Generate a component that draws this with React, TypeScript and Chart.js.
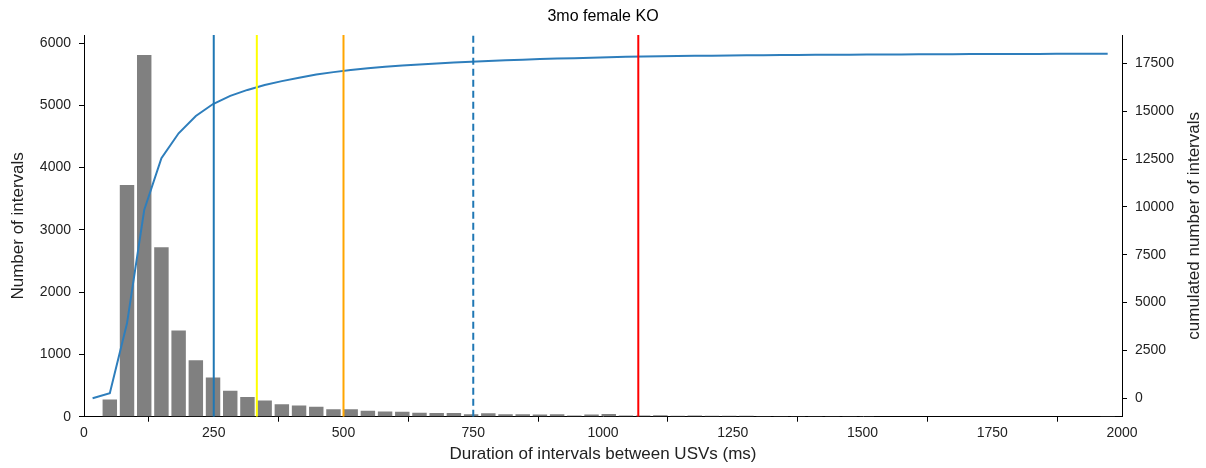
import React, { useEffect, useRef } from "react";
import { Chart, registerables } from "chart.js";

Chart.register(...registerables);

// ---- data ----
const BIN_WIDTH_MS = 33.15;
const intervalCounts = [
  0, 275, 3720, 5810, 2720, 1385, 905, 630, 415, 315,
  262, 200, 180, 158, 120, 118, 97, 82, 78, 62,
  60, 58, 40, 56, 40, 38, 36, 38, 18, 36,
  42, 20, 18, 22, 15, 18, 15, 14, 14, 13,
  12, 12, 11, 10, 10, 11, 9, 9, 9, 8,
  8, 8, 7, 8, 7, 6, 7, 6, 6, 5,
];
const cumulatedCounts = [
  0, 261, 3918, 9837, 12538, 13844, 14748, 15374, 15800, 16110,
  16370, 16570, 16750, 16910, 17040, 17150, 17240, 17320, 17390, 17440,
  17490, 17540, 17580, 17620, 17655, 17690, 17720, 17750, 17770, 17795,
  17820, 17840, 17855, 17870, 17880, 17890, 17900, 17908, 17915, 17922,
  17930, 17936, 17942, 17948, 17953, 17958, 17962, 17966, 17970, 17974,
  17978, 17981, 17984, 17987, 17990, 17992, 17994, 17996, 17998, 18000,
];
const thresholdValues = [250, 333, 500, 750, 1068];
const xTicks = [0, 250, 500, 750, 1000, 1250, 1500, 1750, 2000];
const yLeftTicks = [0, 1000, 2000, 3000, 4000, 5000, 6000];
const yRightTicks = [0, 2500, 5000, 7500, 10000, 12500, 15000, 17500];

const TITLE = "3mo female KO";
const X_LABEL = "Duration of intervals between USVs (ms)";
const Y_LEFT_LABEL = "Number of intervals";
const Y_RIGHT_LABEL = "cumulated number of intervals";

// ---- styles ----
const thresholdStyles = [
  { color: "#1f77b4", dash: [] as number[] },
  { color: "#ffff00", dash: [] as number[] },
  { color: "#ffa500", dash: [] as number[] },
  { color: "#1f77b4", dash: [7, 4] },
  { color: "#ff0000", dash: [] as number[] },
];
const FONT = "'Liberation Sans', Arial, Helvetica, sans-serif";
const TEXT = "#222222";
const LABEL_SIZE = 17;
const TICK_SIZE = 14;
const Y_LEFT_MAX = 6130;
const Y_RIGHT_MIN = -961;
const Y_RIGHT_MAX = 18979;

const rightTitlePlugin = {
  id: "rightTitle",
  afterDraw(chart: any) {
    const { ctx, chartArea } = chart;
    ctx.save();
    ctx.translate(1194, (chartArea.top + chartArea.bottom) / 2);
    ctx.rotate(-Math.PI / 2);
    ctx.fillStyle = TEXT;
    ctx.font = `${LABEL_SIZE}px ${FONT}`;
    ctx.textAlign = "center";
    ctx.textBaseline = "middle";
    ctx.fillText(Y_RIGHT_LABEL, 0, 0);
    ctx.restore();
  },
};

export default function App() {
  const ref = useRef<HTMLCanvasElement | null>(null);

  useEffect(() => {
    if (!ref.current) return;
    const centers = intervalCounts.map((_, i) => (i + 0.5) * BIN_WIDTH_MS);

    const datasets: any[] = [];
    thresholdValues.forEach((v, i) => {
      datasets.push({
        type: "line",
        data: [
          { x: v, y: 0 },
          { x: v, y: Y_LEFT_MAX },
        ],
        yAxisID: "y",
        borderColor: thresholdStyles[i].color,
        borderDash: thresholdStyles[i].dash,
        borderWidth: 2,
        pointRadius: 0,
        order: 0,
      });
    });
    datasets.push({
      type: "line",
      data: cumulatedCounts.map((c, i) => ({ x: centers[i], y: c })),
      yAxisID: "y1",
      borderColor: "#2e7ebc",
      borderWidth: 2,
      pointRadius: 0,
      tension: 0,
      order: 1,
    });
    datasets.push({
      type: "bar",
      data: intervalCounts.map((c, i) => ({ x: centers[i], y: c })),
      yAxisID: "y",
      backgroundColor: "#808080",
      borderWidth: 0,
      barPercentage: 1,
      categoryPercentage: 0.84,
      order: 2,
    });

    const tickSetter = (vals: number[]) => (scale: any) => {
      scale.ticks = vals.map((v) => ({ value: v }));
    };
    const plain = (v: any) => String(v);
    const axisGrid = { display: true, drawOnChartArea: false, drawTicks: true, tickLength: 5, color: "#000", lineWidth: 1 };

    const chart = new Chart(ref.current, {
      type: "bar",
      data: { datasets },
      plugins: [rightTitlePlugin],
      options: {
        animation: false,
        responsive: true,
        maintainAspectRatio: false,
        layout: { padding: { left: 0, right: 0, top: 0, bottom: 0 } },
        plugins: {
          legend: { display: false },
          tooltip: { enabled: false },
          title: {
            display: true,
            text: TITLE,
            color: "#000",
            font: { family: FONT, size: 16, weight: "normal" as any, lineHeight: 1.2 },
            padding: { top: 7, bottom: 8.8 },
          },
        },
        scales: {
          x: {
            type: "linear",
            offset: false,
            min: 0,
            max: 2000,
            afterBuildTicks: tickSetter(xTicks),
            afterFit: (s: any) => {
              s.height = 51.3;
            },
            grid: axisGrid,
            border: { display: true, color: "#000", width: 1 },
            ticks: { color: TEXT, font: { family: FONT, size: TICK_SIZE }, padding: 3, maxRotation: 0, callback: plain },
            title: {
              display: true,
              text: X_LABEL,
              color: TEXT,
              font: { family: FONT, size: LABEL_SIZE, lineHeight: 1.2 },
              padding: { top: 0, bottom: 3 },
            },
          },
          y: {
            type: "linear",
            position: "left",
            min: 0,
            max: Y_LEFT_MAX,
            afterBuildTicks: tickSetter(yLeftTicks),
            afterFit: (s: any) => {
              s.width = 84;
            },
            grid: axisGrid,
            border: { display: true, color: "#000", width: 1 },
            ticks: { color: TEXT, font: { family: FONT, size: TICK_SIZE }, padding: 8, callback: plain },
            title: {
              display: true,
              text: Y_LEFT_LABEL,
              color: TEXT,
              font: { family: FONT, size: LABEL_SIZE, lineHeight: 1.2 },
              padding: { top: 8, bottom: 0 },
            },
          },
          y1: {
            type: "linear",
            position: "right",
            min: Y_RIGHT_MIN,
            max: Y_RIGHT_MAX,
            afterBuildTicks: tickSetter(yRightTicks),
            afterFit: (s: any) => {
              s.width = 84;
            },
            grid: axisGrid,
            border: { display: true, color: "#000", width: 1 },
            ticks: { color: TEXT, font: { family: FONT, size: TICK_SIZE }, padding: 8, callback: plain },
          },
        },
      },
    });
    return () => chart.destroy();
  }, []);

  return (
    <div style={{ position: "fixed", left: 0, top: 0, width: 1206, height: 468, background: "#fff" }}>
      <canvas ref={ref} />
    </div>
  );
}
